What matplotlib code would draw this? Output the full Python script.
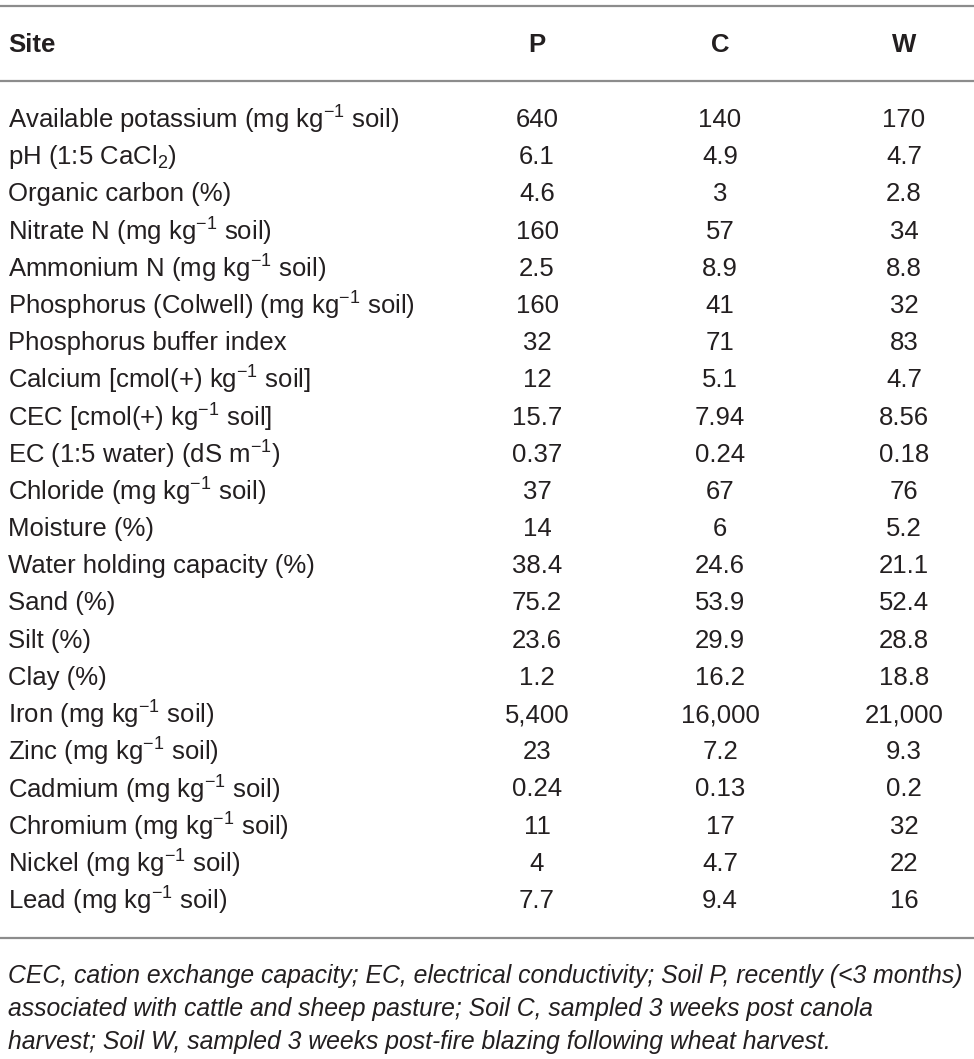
import matplotlib
matplotlib.use("Agg")
import matplotlib.pyplot as plt

plt.rcParams['font.family'] = ['Liberation Sans', 'DejaVu Sans']
plt.rcParams['mathtext.fontset'] = 'custom'
plt.rcParams['mathtext.rm'] = 'Liberation Sans'
plt.rcParams['mathtext.it'] = 'Liberation Sans:italic'
plt.rcParams['mathtext.bf'] = 'Liberation Sans:bold'

# table content
header = ["Site", "P", "C", "W"]
row_labels = [
    r"Available potassium (mg kg$^{-1}$ soil)",
    r"pH (1:5 CaCl$_2$)",
    "Organic carbon (%)",
    r"Nitrate N (mg kg$^{-1}$ soil)",
    r"Ammonium N (mg kg$^{-1}$ soil)",
    r"Phosphorus (Colwell) (mg kg$^{-1}$ soil)",
    "Phosphorus buffer index",
    r"Calcium [cmol(+) kg$^{-1}$ soil]",
    r"CEC [cmol(+) kg$^{-1}$ soil]",
    r"EC (1:5 water) (dS m$^{-1}$)",
    r"Chloride (mg kg$^{-1}$ soil)",
    "Moisture (%)",
    "Water holding capacity (%)",
    "Sand (%)",
    "Silt (%)",
    "Clay (%)",
    r"Iron (mg kg$^{-1}$ soil)",
    r"Zinc (mg kg$^{-1}$ soil)",
    r"Cadmium (mg kg$^{-1}$ soil)",
    r"Chromium (mg kg$^{-1}$ soil)",
    r"Nickel (mg kg$^{-1}$ soil)",
    r"Lead (mg kg$^{-1}$ soil)",
]
soil_P = ["640", "6.1", "4.6", "160", "2.5", "160", "32", "12", "15.7", "0.37", "37",
          "14", "38.4", "75.2", "23.6", "1.2", "5,400", "23", "0.24", "11", "4", "7.7"]
soil_C = ["140", "4.9", "3", "57", "8.9", "41", "71", "5.1", "7.94", "0.24", "67",
          "6", "24.6", "53.9", "29.9", "16.2", "16,000", "7.2", "0.13", "17", "4.7", "9.4"]
soil_W = ["170", "4.7", "2.8", "34", "8.8", "32", "83", "4.7", "8.56", "0.18", "76",
          "5.2", "21.1", "52.4", "28.8", "18.8", "21,000", "9.3", "0.2", "32", "22", "16"]
footnote = [
    "CEC, cation exchange capacity; EC, electrical conductivity; Soil P, recently (<3 months)",
    "associated with cattle and sheep pasture; Soil C, sampled 3 weeks post canola",
    "harvest; Soil W, sampled 3 weeks post-fire blazing following wheat harvest.",
]

W, H = 974, 1059
fig = plt.figure(figsize=(W / 100, H / 100), dpi=100)
ax = fig.add_axes([0, 0, 1, 1])
ax.set_xlim(0, W)
ax.set_ylim(H, 0)
ax.axis('off')

txt = '#231f20'
rule = '#8c8c8c'
fs = 18.5
col_x = [8, 537, 720, 904]

# rules
for y in [6, 81, 938]:
    ax.plot([0, W], [y, y], color=rule, lw=1.6, solid_capstyle='butt')

# header
for i, h in enumerate(header):
    ax.text(col_x[i], 45, h, fontsize=fs, fontweight='bold', color=txt,
            ha='left' if i == 0 else 'center', va='center')

# rows
y0, dy = 120, (901 - 120) / 21
for r, lab in enumerate(row_labels):
    y = y0 + r * dy
    ax.text(col_x[0], y, lab, fontsize=fs, color=txt, ha='left', va='center')
    for c, vals in enumerate([soil_P, soil_C, soil_W]):
        ax.text(col_x[c + 1], y, vals[r], fontsize=fs, color=txt, ha='center', va='center')

# footnote
for k, line in enumerate(footnote):
    ax.text(col_x[0], 976 + k * 33, line, fontsize=17.8, style='italic', color=txt,
            ha='left', va='center')

fig.savefig('out.png', dpi=100)
